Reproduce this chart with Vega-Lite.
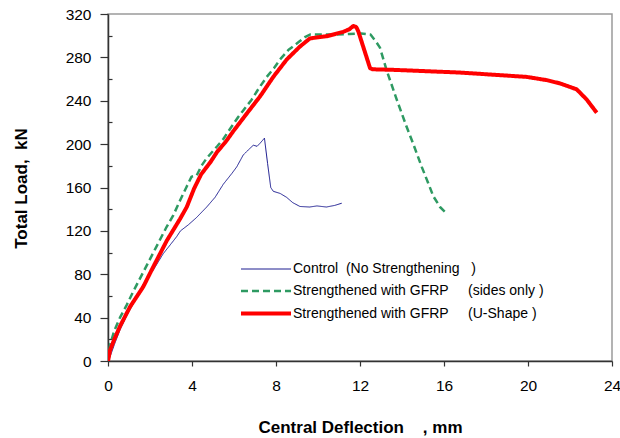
{
  "$schema": "https://vega.github.io/schema/vega-lite/v6.json",
  "autosize": {"type": "none"},
  "width": 504,
  "height": 347,
  "padding": {"left": 108, "top": 14, "right": 8, "bottom": 77},
  "background": "white",
  "config": {
    "view": {"stroke": "#9a9a9a", "strokeWidth": 1.5},
    "font": "Liberation Sans"
  },
  "data": {"values": [
    {"s": "Control\u00a0\u00a0(No Strengthening\u00a0\u00a0\u00a0)", "x": 0, "y": 0},
    {"s": "Control\u00a0\u00a0(No Strengthening\u00a0\u00a0\u00a0)", "x": 0.1, "y": 4},
    {"s": "Control\u00a0\u00a0(No Strengthening\u00a0\u00a0\u00a0)", "x": 0.3, "y": 15},
    {"s": "Control\u00a0\u00a0(No Strengthening\u00a0\u00a0\u00a0)", "x": 0.57, "y": 28.6},
    {"s": "Control\u00a0\u00a0(No Strengthening\u00a0\u00a0\u00a0)", "x": 0.9, "y": 42},
    {"s": "Control\u00a0\u00a0(No Strengthening\u00a0\u00a0\u00a0)", "x": 1.21, "y": 53},
    {"s": "Control\u00a0\u00a0(No Strengthening\u00a0\u00a0\u00a0)", "x": 1.68, "y": 71},
    {"s": "Control\u00a0\u00a0(No Strengthening\u00a0\u00a0\u00a0)", "x": 2.16, "y": 84},
    {"s": "Control\u00a0\u00a0(No Strengthening\u00a0\u00a0\u00a0)", "x": 2.63, "y": 99},
    {"s": "Control\u00a0\u00a0(No Strengthening\u00a0\u00a0\u00a0)", "x": 3.0, "y": 108},
    {"s": "Control\u00a0\u00a0(No Strengthening\u00a0\u00a0\u00a0)", "x": 3.27, "y": 114.7},
    {"s": "Control\u00a0\u00a0(No Strengthening\u00a0\u00a0\u00a0)", "x": 3.45, "y": 120},
    {"s": "Control\u00a0\u00a0(No Strengthening\u00a0\u00a0\u00a0)", "x": 3.82, "y": 125.5},
    {"s": "Control\u00a0\u00a0(No Strengthening\u00a0\u00a0\u00a0)", "x": 4.2, "y": 132},
    {"s": "Control\u00a0\u00a0(No Strengthening\u00a0\u00a0\u00a0)", "x": 4.7, "y": 142},
    {"s": "Control\u00a0\u00a0(No Strengthening\u00a0\u00a0\u00a0)", "x": 5.1, "y": 151},
    {"s": "Control\u00a0\u00a0(No Strengthening\u00a0\u00a0\u00a0)", "x": 5.49, "y": 163},
    {"s": "Control\u00a0\u00a0(No Strengthening\u00a0\u00a0\u00a0)", "x": 5.9, "y": 173},
    {"s": "Control\u00a0\u00a0(No Strengthening\u00a0\u00a0\u00a0)", "x": 6.13, "y": 179},
    {"s": "Control\u00a0\u00a0(No Strengthening\u00a0\u00a0\u00a0)", "x": 6.44, "y": 190},
    {"s": "Control\u00a0\u00a0(No Strengthening\u00a0\u00a0\u00a0)", "x": 6.7, "y": 195},
    {"s": "Control\u00a0\u00a0(No Strengthening\u00a0\u00a0\u00a0)", "x": 6.92, "y": 199},
    {"s": "Control\u00a0\u00a0(No Strengthening\u00a0\u00a0\u00a0)", "x": 7.1, "y": 198},
    {"s": "Control\u00a0\u00a0(No Strengthening\u00a0\u00a0\u00a0)", "x": 7.25, "y": 201},
    {"s": "Control\u00a0\u00a0(No Strengthening\u00a0\u00a0\u00a0)", "x": 7.45, "y": 205.5},
    {"s": "Control\u00a0\u00a0(No Strengthening\u00a0\u00a0\u00a0)", "x": 7.6, "y": 182},
    {"s": "Control\u00a0\u00a0(No Strengthening\u00a0\u00a0\u00a0)", "x": 7.75, "y": 160},
    {"s": "Control\u00a0\u00a0(No Strengthening\u00a0\u00a0\u00a0)", "x": 7.87, "y": 156.5},
    {"s": "Control\u00a0\u00a0(No Strengthening\u00a0\u00a0\u00a0)", "x": 8.2, "y": 154.5},
    {"s": "Control\u00a0\u00a0(No Strengthening\u00a0\u00a0\u00a0)", "x": 8.5, "y": 151},
    {"s": "Control\u00a0\u00a0(No Strengthening\u00a0\u00a0\u00a0)", "x": 8.8, "y": 146},
    {"s": "Control\u00a0\u00a0(No Strengthening\u00a0\u00a0\u00a0)", "x": 9.14, "y": 142.5},
    {"s": "Control\u00a0\u00a0(No Strengthening\u00a0\u00a0\u00a0)", "x": 9.6, "y": 142},
    {"s": "Control\u00a0\u00a0(No Strengthening\u00a0\u00a0\u00a0)", "x": 9.95, "y": 143},
    {"s": "Control\u00a0\u00a0(No Strengthening\u00a0\u00a0\u00a0)", "x": 10.4, "y": 142},
    {"s": "Control\u00a0\u00a0(No Strengthening\u00a0\u00a0\u00a0)", "x": 10.8, "y": 143.5},
    {"s": "Control\u00a0\u00a0(No Strengthening\u00a0\u00a0\u00a0)", "x": 11.13, "y": 145.5},

    {"s": "Strengthened with GFRP\u00a0\u00a0\u00a0\u00a0\u00a0(sides only )", "x": 0, "y": 0},
    {"s": "Strengthened with GFRP\u00a0\u00a0\u00a0\u00a0\u00a0(sides only )", "x": 0.1, "y": 15},
    {"s": "Strengthened with GFRP\u00a0\u00a0\u00a0\u00a0\u00a0(sides only )", "x": 0.3, "y": 28},
    {"s": "Strengthened with GFRP\u00a0\u00a0\u00a0\u00a0\u00a0(sides only )", "x": 0.57, "y": 40},
    {"s": "Strengthened with GFRP\u00a0\u00a0\u00a0\u00a0\u00a0(sides only )", "x": 0.9, "y": 52},
    {"s": "Strengthened with GFRP\u00a0\u00a0\u00a0\u00a0\u00a0(sides only )", "x": 1.2, "y": 64},
    {"s": "Strengthened with GFRP\u00a0\u00a0\u00a0\u00a0\u00a0(sides only )", "x": 1.6, "y": 79},
    {"s": "Strengthened with GFRP\u00a0\u00a0\u00a0\u00a0\u00a0(sides only )", "x": 2.0, "y": 94},
    {"s": "Strengthened with GFRP\u00a0\u00a0\u00a0\u00a0\u00a0(sides only )", "x": 2.4, "y": 109},
    {"s": "Strengthened with GFRP\u00a0\u00a0\u00a0\u00a0\u00a0(sides only )", "x": 2.8, "y": 124},
    {"s": "Strengthened with GFRP\u00a0\u00a0\u00a0\u00a0\u00a0(sides only )", "x": 3.1, "y": 134},
    {"s": "Strengthened with GFRP\u00a0\u00a0\u00a0\u00a0\u00a0(sides only )", "x": 3.43, "y": 148},
    {"s": "Strengthened with GFRP\u00a0\u00a0\u00a0\u00a0\u00a0(sides only )", "x": 3.75, "y": 161},
    {"s": "Strengthened with GFRP\u00a0\u00a0\u00a0\u00a0\u00a0(sides only )", "x": 3.98, "y": 170},
    {"s": "Strengthened with GFRP\u00a0\u00a0\u00a0\u00a0\u00a0(sides only )", "x": 4.22, "y": 171},
    {"s": "Strengthened with GFRP\u00a0\u00a0\u00a0\u00a0\u00a0(sides only )", "x": 4.45, "y": 180},
    {"s": "Strengthened with GFRP\u00a0\u00a0\u00a0\u00a0\u00a0(sides only )", "x": 4.7, "y": 187},
    {"s": "Strengthened with GFRP\u00a0\u00a0\u00a0\u00a0\u00a0(sides only )", "x": 5.2, "y": 198},
    {"s": "Strengthened with GFRP\u00a0\u00a0\u00a0\u00a0\u00a0(sides only )", "x": 5.5, "y": 205},
    {"s": "Strengthened with GFRP\u00a0\u00a0\u00a0\u00a0\u00a0(sides only )", "x": 5.81, "y": 214},
    {"s": "Strengthened with GFRP\u00a0\u00a0\u00a0\u00a0\u00a0(sides only )", "x": 6.2, "y": 225},
    {"s": "Strengthened with GFRP\u00a0\u00a0\u00a0\u00a0\u00a0(sides only )", "x": 6.44, "y": 231},
    {"s": "Strengthened with GFRP\u00a0\u00a0\u00a0\u00a0\u00a0(sides only )", "x": 6.84, "y": 241},
    {"s": "Strengthened with GFRP\u00a0\u00a0\u00a0\u00a0\u00a0(sides only )", "x": 7.2, "y": 252},
    {"s": "Strengthened with GFRP\u00a0\u00a0\u00a0\u00a0\u00a0(sides only )", "x": 7.56, "y": 262},
    {"s": "Strengthened with GFRP\u00a0\u00a0\u00a0\u00a0\u00a0(sides only )", "x": 7.9, "y": 270},
    {"s": "Strengthened with GFRP\u00a0\u00a0\u00a0\u00a0\u00a0(sides only )", "x": 8.19, "y": 278},
    {"s": "Strengthened with GFRP\u00a0\u00a0\u00a0\u00a0\u00a0(sides only )", "x": 8.6, "y": 287},
    {"s": "Strengthened with GFRP\u00a0\u00a0\u00a0\u00a0\u00a0(sides only )", "x": 9.14, "y": 295},
    {"s": "Strengthened with GFRP\u00a0\u00a0\u00a0\u00a0\u00a0(sides only )", "x": 9.4, "y": 299},
    {"s": "Strengthened with GFRP\u00a0\u00a0\u00a0\u00a0\u00a0(sides only )", "x": 9.62, "y": 301},
    {"s": "Strengthened with GFRP\u00a0\u00a0\u00a0\u00a0\u00a0(sides only )", "x": 10.5, "y": 301},
    {"s": "Strengthened with GFRP\u00a0\u00a0\u00a0\u00a0\u00a0(sides only )", "x": 11.5, "y": 301.5},
    {"s": "Strengthened with GFRP\u00a0\u00a0\u00a0\u00a0\u00a0(sides only )", "x": 12.05, "y": 302},
    {"s": "Strengthened with GFRP\u00a0\u00a0\u00a0\u00a0\u00a0(sides only )", "x": 12.5, "y": 301},
    {"s": "Strengthened with GFRP\u00a0\u00a0\u00a0\u00a0\u00a0(sides only )", "x": 12.78, "y": 294},
    {"s": "Strengthened with GFRP\u00a0\u00a0\u00a0\u00a0\u00a0(sides only )", "x": 12.95, "y": 289},
    {"s": "Strengthened with GFRP\u00a0\u00a0\u00a0\u00a0\u00a0(sides only )", "x": 13.27, "y": 268},
    {"s": "Strengthened with GFRP\u00a0\u00a0\u00a0\u00a0\u00a0(sides only )", "x": 13.75, "y": 241},
    {"s": "Strengthened with GFRP\u00a0\u00a0\u00a0\u00a0\u00a0(sides only )", "x": 14.22, "y": 216},
    {"s": "Strengthened with GFRP\u00a0\u00a0\u00a0\u00a0\u00a0(sides only )", "x": 14.54, "y": 200},
    {"s": "Strengthened with GFRP\u00a0\u00a0\u00a0\u00a0\u00a0(sides only )", "x": 14.94, "y": 179},
    {"s": "Strengthened with GFRP\u00a0\u00a0\u00a0\u00a0\u00a0(sides only )", "x": 15.25, "y": 164},
    {"s": "Strengthened with GFRP\u00a0\u00a0\u00a0\u00a0\u00a0(sides only )", "x": 15.49, "y": 152},
    {"s": "Strengthened with GFRP\u00a0\u00a0\u00a0\u00a0\u00a0(sides only )", "x": 15.81, "y": 142},
    {"s": "Strengthened with GFRP\u00a0\u00a0\u00a0\u00a0\u00a0(sides only )", "x": 16.13, "y": 136},

    {"s": "Strengthened with GFRP\u00a0\u00a0\u00a0\u00a0\u00a0(U-Shape )", "x": 0, "y": 0},
    {"s": "Strengthened with GFRP\u00a0\u00a0\u00a0\u00a0\u00a0(U-Shape )", "x": 0.1, "y": 10},
    {"s": "Strengthened with GFRP\u00a0\u00a0\u00a0\u00a0\u00a0(U-Shape )", "x": 0.3, "y": 20},
    {"s": "Strengthened with GFRP\u00a0\u00a0\u00a0\u00a0\u00a0(U-Shape )", "x": 0.57, "y": 32},
    {"s": "Strengthened with GFRP\u00a0\u00a0\u00a0\u00a0\u00a0(U-Shape )", "x": 1.05, "y": 50},
    {"s": "Strengthened with GFRP\u00a0\u00a0\u00a0\u00a0\u00a0(U-Shape )", "x": 1.68, "y": 68.5},
    {"s": "Strengthened with GFRP\u00a0\u00a0\u00a0\u00a0\u00a0(U-Shape )", "x": 2.16, "y": 87},
    {"s": "Strengthened with GFRP\u00a0\u00a0\u00a0\u00a0\u00a0(U-Shape )", "x": 2.8, "y": 111},
    {"s": "Strengthened with GFRP\u00a0\u00a0\u00a0\u00a0\u00a0(U-Shape )", "x": 3.43, "y": 131},
    {"s": "Strengthened with GFRP\u00a0\u00a0\u00a0\u00a0\u00a0(U-Shape )", "x": 3.75, "y": 142},
    {"s": "Strengthened with GFRP\u00a0\u00a0\u00a0\u00a0\u00a0(U-Shape )", "x": 4.1, "y": 159},
    {"s": "Strengthened with GFRP\u00a0\u00a0\u00a0\u00a0\u00a0(U-Shape )", "x": 4.43, "y": 172},
    {"s": "Strengthened with GFRP\u00a0\u00a0\u00a0\u00a0\u00a0(U-Shape )", "x": 4.9, "y": 184},
    {"s": "Strengthened with GFRP\u00a0\u00a0\u00a0\u00a0\u00a0(U-Shape )", "x": 5.2, "y": 193},
    {"s": "Strengthened with GFRP\u00a0\u00a0\u00a0\u00a0\u00a0(U-Shape )", "x": 5.6, "y": 202},
    {"s": "Strengthened with GFRP\u00a0\u00a0\u00a0\u00a0\u00a0(U-Shape )", "x": 5.97, "y": 212},
    {"s": "Strengthened with GFRP\u00a0\u00a0\u00a0\u00a0\u00a0(U-Shape )", "x": 6.6, "y": 228},
    {"s": "Strengthened with GFRP\u00a0\u00a0\u00a0\u00a0\u00a0(U-Shape )", "x": 7.24, "y": 244},
    {"s": "Strengthened with GFRP\u00a0\u00a0\u00a0\u00a0\u00a0(U-Shape )", "x": 7.87, "y": 262},
    {"s": "Strengthened with GFRP\u00a0\u00a0\u00a0\u00a0\u00a0(U-Shape )", "x": 8.51, "y": 278},
    {"s": "Strengthened with GFRP\u00a0\u00a0\u00a0\u00a0\u00a0(U-Shape )", "x": 9.14, "y": 290},
    {"s": "Strengthened with GFRP\u00a0\u00a0\u00a0\u00a0\u00a0(U-Shape )", "x": 9.62, "y": 297.5},
    {"s": "Strengthened with GFRP\u00a0\u00a0\u00a0\u00a0\u00a0(U-Shape )", "x": 10.0, "y": 298.5},
    {"s": "Strengthened with GFRP\u00a0\u00a0\u00a0\u00a0\u00a0(U-Shape )", "x": 10.41, "y": 299.5},
    {"s": "Strengthened with GFRP\u00a0\u00a0\u00a0\u00a0\u00a0(U-Shape )", "x": 11.2, "y": 303.5},
    {"s": "Strengthened with GFRP\u00a0\u00a0\u00a0\u00a0\u00a0(U-Shape )", "x": 11.5, "y": 306},
    {"s": "Strengthened with GFRP\u00a0\u00a0\u00a0\u00a0\u00a0(U-Shape )", "x": 11.68, "y": 309},
    {"s": "Strengthened with GFRP\u00a0\u00a0\u00a0\u00a0\u00a0(U-Shape )", "x": 11.82, "y": 308},
    {"s": "Strengthened with GFRP\u00a0\u00a0\u00a0\u00a0\u00a0(U-Shape )", "x": 11.92, "y": 304},
    {"s": "Strengthened with GFRP\u00a0\u00a0\u00a0\u00a0\u00a0(U-Shape )", "x": 12.2, "y": 287},
    {"s": "Strengthened with GFRP\u00a0\u00a0\u00a0\u00a0\u00a0(U-Shape )", "x": 12.48, "y": 270},
    {"s": "Strengthened with GFRP\u00a0\u00a0\u00a0\u00a0\u00a0(U-Shape )", "x": 12.6, "y": 269},
    {"s": "Strengthened with GFRP\u00a0\u00a0\u00a0\u00a0\u00a0(U-Shape )", "x": 13.59, "y": 268.5},
    {"s": "Strengthened with GFRP\u00a0\u00a0\u00a0\u00a0\u00a0(U-Shape )", "x": 16.76, "y": 266},
    {"s": "Strengthened with GFRP\u00a0\u00a0\u00a0\u00a0\u00a0(U-Shape )", "x": 19.94, "y": 262},
    {"s": "Strengthened with GFRP\u00a0\u00a0\u00a0\u00a0\u00a0(U-Shape )", "x": 20.89, "y": 259},
    {"s": "Strengthened with GFRP\u00a0\u00a0\u00a0\u00a0\u00a0(U-Shape )", "x": 21.52, "y": 256},
    {"s": "Strengthened with GFRP\u00a0\u00a0\u00a0\u00a0\u00a0(U-Shape )", "x": 22.32, "y": 250.5},
    {"s": "Strengthened with GFRP\u00a0\u00a0\u00a0\u00a0\u00a0(U-Shape )", "x": 22.8, "y": 241},
    {"s": "Strengthened with GFRP\u00a0\u00a0\u00a0\u00a0\u00a0(U-Shape )", "x": 23.27, "y": 229}
  ]},
  "mark": {"type": "line", "strokeJoin": "round", "strokeCap": "butt", "clip": true},
  "encoding": {
    "x": {
      "field": "x", "type": "quantitative",
      "scale": {"domain": [0, 24], "nice": false, "zero": false},
      "axis": {
        "values": [0, 4, 8, 12, 16, 20, 24],
        "title": "Central Deflection\u00a0\u00a0\u00a0\u00a0, mm",
        "titleFont": "Liberation Sans", "titleFontSize": 17, "titleFontWeight": "bold", "titleColor": "#000",
        "titleY": 58, "titleBaseline": "top",
        "labelFont": "Liberation Sans", "labelFontSize": 15.5, "labelColor": "#000", "labelPadding": 12,
        "tickSize": 5, "tickColor": "#333", "domainColor": "#333", "domainWidth": 1.5, "tickWidth": 1.2,
        "grid": false, "labelFlush": false
      }
    },
    "y": {
      "field": "y", "type": "quantitative",
      "scale": {"domain": [0, 320], "nice": false},
      "axis": {
        "values": [0, 20, 40, 60, 80, 100, 120, 140, 160, 180, 200, 220, 240, 260, 280, 300, 320],
        "labelExpr": "datum.value % 40 === 0 ? datum.label : ''",
        "title": "Total Load,\u00a0\u00a0kN",
        "titleFont": "Liberation Sans", "titleFontSize": 17, "titleFontWeight": "bold", "titleColor": "#000",
        "titleX": -78, "titleY": 174,
        "labelFont": "Liberation Sans", "labelFontSize": 15.5, "labelColor": "#000", "labelPadding": 9,
        "tickSize": {"condition": {"test": "datum.value % 40 !== 0", "value": -4}, "value": 8},
        "tickColor": "#333", "domainColor": "#333", "domainWidth": 1.5, "tickWidth": 1.2,
        "grid": false, "labelFlush": false
      }
    },
    "color": {
      "field": "s", "type": "nominal",
      "scale": {
        "domain": ["Control\u00a0\u00a0(No Strengthening\u00a0\u00a0\u00a0)", "Strengthened with GFRP\u00a0\u00a0\u00a0\u00a0\u00a0(sides only )", "Strengthened with GFRP\u00a0\u00a0\u00a0\u00a0\u00a0(U-Shape )"],
        "range": ["#1c1c90", "#2e9a62", "#ff0000"]
      },
      "legend": {
        "title": null, "orient": "none", "legendX": 143.5, "legendY": 242,
        "symbolType": "M-2,0H2", "symbolSize": 625, "padding": 0, "rowPadding": 1,
        "labelFont": "Liberation Sans", "labelFontSize": 14, "labelColor": "#000", "labelOffset": 12.5,
        "labelLimit": 400
      }
    },
    "strokeDash": {
      "field": "s", "type": "nominal",
      "scale": {
        "domain": ["Control\u00a0\u00a0(No Strengthening\u00a0\u00a0\u00a0)", "Strengthened with GFRP\u00a0\u00a0\u00a0\u00a0\u00a0(sides only )", "Strengthened with GFRP\u00a0\u00a0\u00a0\u00a0\u00a0(U-Shape )"],
        "range": [[1, 0], [7, 4], [1, 0]]
      },
      "legend": null
    },
    "strokeWidth": {
      "field": "s", "type": "nominal",
      "scale": {
        "domain": ["Control\u00a0\u00a0(No Strengthening\u00a0\u00a0\u00a0)", "Strengthened with GFRP\u00a0\u00a0\u00a0\u00a0\u00a0(sides only )", "Strengthened with GFRP\u00a0\u00a0\u00a0\u00a0\u00a0(U-Shape )"],
        "range": [1, 4, 3.5]
      },
      "legend": null
    },
    "order": {"field": "x", "type": "quantitative"}
  }
}
